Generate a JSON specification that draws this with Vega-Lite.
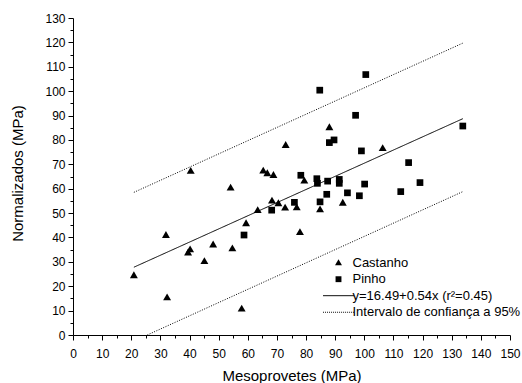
{
  "$schema": "https://vega.github.io/schema/vega-lite/v6.json",
  "width": 437,
  "height": 317,
  "autosize": {"type": "none"},
  "padding": {"left": 73, "top": 18, "right": 12, "bottom": 48},
  "background": "white",
  "config": {
    "view": {"stroke": null},
    "font": "Liberation Sans",
    "axis": {
      "grid": false,
      "domainColor": "black",
      "domainWidth": 1,
      "tickColor": "black",
      "tickWidth": 1,
      "labelColor": "black",
      "labelFont": "Liberation Sans",
      "labelFontSize": 12,
      "titleFont": "Liberation Sans",
      "titleFontSize": 15,
      "titleFontWeight": "normal",
      "titleColor": "black"
    }
  },
  "datasets": {
    "points": [
      {"series": "Castanho", "meso": 20.9, "norm": 24.5},
      {"series": "Castanho", "meso": 32.3, "norm": 15.4},
      {"series": "Castanho", "meso": 31.9, "norm": 41.0},
      {"series": "Castanho", "meso": 39.5, "norm": 33.8},
      {"series": "Castanho", "meso": 40.2, "norm": 35.1},
      {"series": "Castanho", "meso": 40.4, "norm": 67.3},
      {"series": "Castanho", "meso": 45.1, "norm": 30.3},
      {"series": "Castanho", "meso": 48.1, "norm": 37.1},
      {"series": "Castanho", "meso": 54.1, "norm": 60.4},
      {"series": "Castanho", "meso": 54.7, "norm": 35.5},
      {"series": "Castanho", "meso": 57.9, "norm": 10.8},
      {"series": "Castanho", "meso": 59.4, "norm": 45.8},
      {"series": "Castanho", "meso": 63.4, "norm": 51.2},
      {"series": "Castanho", "meso": 65.3, "norm": 67.4},
      {"series": "Castanho", "meso": 66.7, "norm": 66.3},
      {"series": "Castanho", "meso": 68.8, "norm": 65.6},
      {"series": "Castanho", "meso": 68.3, "norm": 55.1},
      {"series": "Castanho", "meso": 70.5, "norm": 54.0},
      {"series": "Castanho", "meso": 72.8, "norm": 52.2},
      {"series": "Castanho", "meso": 73.0, "norm": 77.9},
      {"series": "Castanho", "meso": 76.8, "norm": 52.3},
      {"series": "Castanho", "meso": 77.9, "norm": 42.2},
      {"series": "Castanho", "meso": 79.4, "norm": 63.3},
      {"series": "Castanho", "meso": 84.8, "norm": 51.5},
      {"series": "Castanho", "meso": 88.0, "norm": 85.2},
      {"series": "Castanho", "meso": 92.6, "norm": 54.2},
      {"series": "Castanho", "meso": 106.3, "norm": 76.6},
      {"series": "Pinho", "meso": 58.7, "norm": 41.0},
      {"series": "Pinho", "meso": 68.2, "norm": 51.2},
      {"series": "Pinho", "meso": 76.0, "norm": 54.4},
      {"series": "Pinho", "meso": 78.2, "norm": 65.5},
      {"series": "Pinho", "meso": 83.7, "norm": 64.1},
      {"series": "Pinho", "meso": 83.9, "norm": 62.2},
      {"series": "Pinho", "meso": 84.7, "norm": 100.4},
      {"series": "Pinho", "meso": 84.8, "norm": 54.6},
      {"series": "Pinho", "meso": 87.1, "norm": 57.7},
      {"series": "Pinho", "meso": 87.4, "norm": 63.1},
      {"series": "Pinho", "meso": 88.0, "norm": 78.9},
      {"series": "Pinho", "meso": 89.6, "norm": 80.0},
      {"series": "Pinho", "meso": 91.4, "norm": 63.8},
      {"series": "Pinho", "meso": 91.4, "norm": 62.2},
      {"series": "Pinho", "meso": 94.2, "norm": 58.3},
      {"series": "Pinho", "meso": 97.0, "norm": 90.1},
      {"series": "Pinho", "meso": 98.3, "norm": 57.1},
      {"series": "Pinho", "meso": 99.0, "norm": 75.5},
      {"series": "Pinho", "meso": 100.1, "norm": 61.9},
      {"series": "Pinho", "meso": 100.5, "norm": 106.8},
      {"series": "Pinho", "meso": 112.5, "norm": 58.8},
      {"series": "Pinho", "meso": 115.2, "norm": 70.7},
      {"series": "Pinho", "meso": 119.1, "norm": 62.5},
      {"series": "Pinho", "meso": 133.8, "norm": 85.7}
    ],
    "lines": [
      {"kind": "reg", "part": "fit", "meso": 20.9, "norm": 27.8},
      {"kind": "reg", "part": "fit", "meso": 133.8, "norm": 88.7},
      {"kind": "ci", "part": "upper", "meso": 20.9, "norm": 58.5},
      {"kind": "ci", "part": "upper", "meso": 133.8, "norm": 119.7},
      {"kind": "ci", "part": "lower", "meso": 25.5, "norm": 0},
      {"kind": "ci", "part": "lower", "meso": 133.8, "norm": 58.8}
    ]
  },
  "encoding": {
    "x": {
      "field": "meso",
      "type": "quantitative",
      "scale": {"domain": [0, 150], "nice": false, "zero": false},
      "axis": {
        "title": "Mesoprovetes (MPa)",
        "values": [0,5,10,15,20,25,30,35,40,45,50,55,60,65,70,75,80,85,90,95,100,105,110,115,120,125,130,135,140,145,150],
        "labelExpr": "datum.value % 10 === 0 ? datum.label : ''",
        "tickSize": {"condition": {"test": "datum.value % 10 === 0", "value": 5}, "value": 3},
        "labelPadding": 8,
        "labelFlush": false,
        "labelOverlap": false,
        "titleX": 218.5,
        "titleY": 45.5,
        "titleBaseline": "alphabetic"
      }
    },
    "y": {
      "field": "norm",
      "type": "quantitative",
      "scale": {"domain": [0, 130], "nice": false, "zero": false},
      "axis": {
        "title": "Normalizados (MPa)",
        "values": [0,5,10,15,20,25,30,35,40,45,50,55,60,65,70,75,80,85,90,95,100,105,110,115,120,125,130],
        "labelExpr": "datum.value % 10 === 0 ? datum.label : ''",
        "tickSize": {"condition": {"test": "datum.value % 10 === 0", "value": 5}, "value": 3},
        "labelPadding": 3,
        "labelFlush": false,
        "labelOverlap": false,
        "titleX": -51,
        "titleY": 155,
        "titleBaseline": "alphabetic"
      }
    }
  },
  "layer": [
    {
      "data": {"name": "lines"},
      "mark": {"type": "line", "color": "black", "strokeWidth": 1},
      "encoding": {
        "detail": {"field": "part", "type": "nominal"},
        "strokeDash": {
          "field": "kind",
          "type": "nominal",
          "scale": {"domain": ["reg", "ci"], "range": [[1, 0], [1, 1.5]]},
          "legend": null
        }
      }
    },
    {
      "data": {"name": "points"},
      "mark": {"type": "point", "filled": true, "color": "black", "opacity": 1, "size": 52},
      "encoding": {
        "shape": {
          "field": "series",
          "type": "nominal",
          "scale": {
            "domain": ["Castanho", "Pinho", "y=16.49+0.54x (r²=0.45)", "Intervalo de confiança a 95%"],
            "range": [
              "M0,-1.1L1.1,0.8L-1.1,0.8Z",
              "M-0.93,-0.93H0.93V0.93H-0.93Z",
              "M-4.9,-0.15H4.9V0.15H-4.9Z",
              "M-4.9,-0.15h0.3v0.3h-0.3zM-4.27,-0.15h0.3v0.3h-0.3zM-3.64,-0.15h0.3v0.3h-0.3zM-3.01,-0.15h0.3v0.3h-0.3zM-2.38,-0.15h0.3v0.3h-0.3zM-1.75,-0.15h0.3v0.3h-0.3zM-1.12,-0.15h0.3v0.3h-0.3zM-0.49,-0.15h0.3v0.3h-0.3zM0.14,-0.15h0.3v0.3h-0.3zM0.77,-0.15h0.3v0.3h-0.3zM1.4,-0.15h0.3v0.3h-0.3zM2.03,-0.15h0.3v0.3h-0.3zM2.66,-0.15h0.3v0.3h-0.3zM3.29,-0.15h0.3v0.3h-0.3zM3.92,-0.15h0.3v0.3h-0.3zM4.55,-0.15h0.3v0.3h-0.3z"
            ]
          },
          "legend": {
            "title": null,
            "orient": "none",
            "legendX": 259,
            "legendY": 238.2,
            "padding": 0,
            "rowPadding": 2.5,
            "symbolSize": 40,
            "symbolFillColor": "black",
            "symbolStrokeWidth": 0,
            "labelFont": "Liberation Sans",
            "labelFontSize": 13,
            "labelColor": "black",
            "labelOffset": 7.5,
            "labelLimit": 300
          }
        }
      }
    }
  ]
}
